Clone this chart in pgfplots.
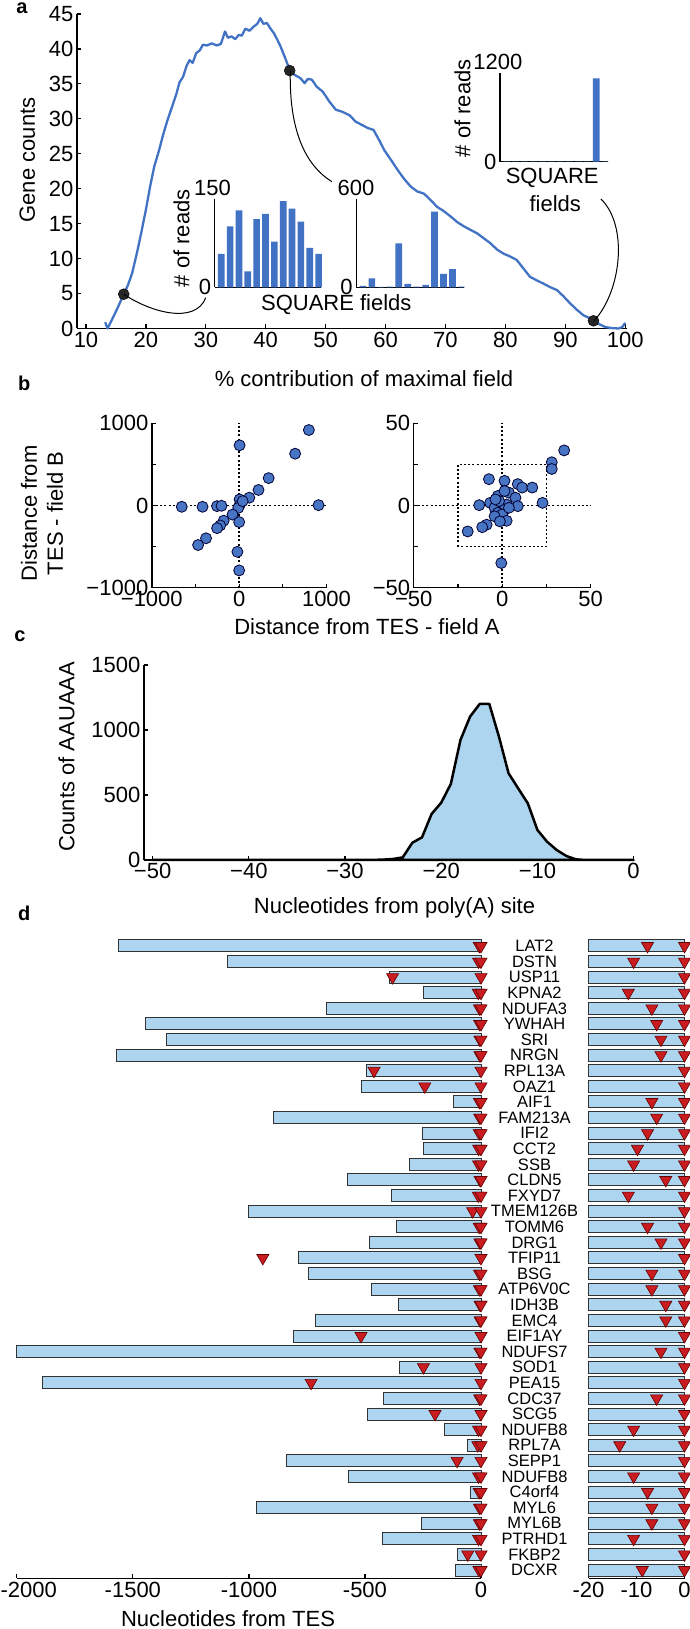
\documentclass[border=0pt]{standalone}
\usepackage{pgfplots}
\pgfplotsset{compat=1.18}
\usepackage{pgfplotstable}
\usepackage{fontspec}
\setmainfont{Liberation Sans}

\definecolor{cblue}{RGB}{66,114,196}
\definecolor{dotblue}{RGB}{72,116,196}
\definecolor{lblue}{RGB}{173,213,239}
\definecolor{tred}{RGB}{200,28,32}

\newcommand{\fs}{\fontsize{22}{26}\selectfont}
\newcommand{\gs}{\fontsize{16.5}{18}\selectfont}
\newcommand{\ls}{\fontsize{20}{24}\selectfont\bfseries}

\pgfplotsset{
  myaxis/.style={scale only axis, anchor=south west, clip=false,
    axis x line*=bottom, axis y line*=left,
    axis line style={line width=1.4pt,-},
    tick align=inside, major tick length=4pt,
    tick style={line width=1.2pt,black},
    tick label style={font=\fs},
    /pgf/number format/assume math mode=true,
    /pgf/number format/1000 sep={}},
  tri/.style={only marks, mark=triangle*, mark size=7pt,
    mark options={rotate=180, fill=tred, draw=black!60!red, line width=0.6pt}},
}

% panel a: gene counts vs % contribution of maximal field
\pgfplotstableread{
x y
13.2 0.9
13.6 0
14.3 1.2
15.2 2.8
16.3 4.9
17.0 6.2
17.7 7.9
18.5 10.8
19.2 13.6
20.0 17.0
20.7 20.3
21.4 23.2
22.2 25.5
22.9 27.8
23.6 29.8
24.4 31.8
25.1 33.6
25.6 35.2
26.2 36.0
26.8 37.6
27.3 38.4
27.8 38.0
28.4 39.4
29.0 39.8
29.5 40.6
30.2 40.5
31.0 40.8
31.8 40.5
32.5 40.7
33.2 42.5
33.7 41.6
34.3 41.8
34.9 41.4
35.5 42.0
36.0 41.9
36.6 42.9
37.3 42.6
38.0 43.2
38.6 43.6
39.1 44.4
39.6 43.6
40.2 43.7
40.8 42.9
41.4 42.2
42.0 41.2
42.5 40.3
43.2 38.8
44.0 37.0
44.8 36.3
45.8 35.8
46.5 35.1
47.0 35.7
47.7 35.6
48.5 34.6
49.5 33.9
50.6 32.5
51.7 31.3
52.8 31.0
54.0 30.5
55.0 29.6
56.1 29.1
57.0 28.7
58.0 28.4
58.9 27.0
59.8 25.5
61.0 24.0
62.0 22.7
63.1 21.4
64.2 20.3
65.3 19.6
66.4 19.3
67.5 18.4
68.6 17.4
69.7 16.8
70.9 16.0
72.0 15.2
73.1 14.6
74.2 14.1
75.3 13.6
76.4 12.9
77.5 12.2
78.6 11.3
79.7 10.7
80.8 10.3
81.9 9.8
83.0 8.6
84.1 7.4
85.2 6.9
86.4 6.4
87.5 5.9
88.6 5.5
89.7 4.6
90.8 3.6
91.9 2.7
93.0 1.9
94.0 1.5
94.8 1.1
95.7 0.6
96.7 0.2
97.8 0.05
98.9 0
99.5 0.2
100 0.8
}\curveA

\pgfplotstableread{
x y
16.3 4.9
44.0 36.9
94.7 1.1
}\dotsA

\pgfplotstableread{
f a b c
1 57 9 3
2 104 61 3
3 131 3 3
4 27 4 3
5 116 300 3
6 125 23 3
7 78 4 3
8 147 16 3
9 134 515 3
10 112 91 3
11 67 123 1124
12 57 4 3
}\insets

% panel b
\pgfplotstableread{
x y
798 918
641 630
5 732
338 333
222 189
116 95
909 4
-657 -16
-419 -16
-253 -8
-202 -4
5 74
5 4
-10 -29
40 53
-76 -111
0 -202
-177 -185
-217 -243
-253 -276
-379 -399
-470 -481
-20 -564
0 -790
}\scatL

\pgfplotstableread{
x y
35 33.5
28 26.3
28 22.2
-7.5 16
1.3 15
8.8 13
11.3 10.9
17 10.9
3.8 7.8
-2.5 5.8
1.3 8.8
7.5 4.7
22.8 1.6
-13 0.2
-6.8 1.6
-1.3 0.6
2.5 0.6
8.8 -0.4
-4.3 -1.4
1.3 -2.5
-2.5 -4.5
0 -5.5
-4.3 -6.6
2.5 -9.3
-1.3 -9.7
-8.8 -11.7
-11.3 -13.2
-19.5 -15.8
-0.5 -35
-1.8 2.7
3.8 -1.4
-3.8 3.7
}\scatR

% panel c
\pgfplotstableread{
x y
-50 0
-45 0
-40 0
-35 0
-30 0
-27 1
-26 3
-25 8
-24 20
-23 133
-22 174
-21 354
-20 441
-19 585
-18 923
-17 1103
-16 1200
-15 1200
-14 949
-13 667
-12 551
-11 436
-10 231
-9 141
-8 77
-7 31
-6 5
-5 0
0 0
}\aaua

% panel d
\pgfplotstableread{
pos name len s1 s2
1 DCXR -109 0 -8.8
2 FKBP2 -103 0 -57
3 PTRHD1 -423 0 -10.6
4 MYL6B -255 0 -6.8
5 MYL6 -967 0 -6.8
6 C4orf4 -44 0 -7.7
7 NDUFB8 -572 0 -10.6
8 SEPP1 -839 0 -103
9 RPL7A -59 0 -13.5
10 NDUFB8 -156 0 -10.6
11 SCG5 -488 0 -198
12 CDC37 -418 0 -5.8
13 PEA15 -1888 0 -732
14 SOD1 -353 0 -248
15 NDUFS7 -2000 0 -4.9
16 EIF1AY -808 0 -517
17 EMC4 -713 0 -3.9
18 IDH3B -357 0 -3.9
19 ATP6V0C -473 0 -6.8
20 BSG -744 0 -6.8
21 TFIP11 -786 0 -940
22 DRG1 -480 0 -4.9
23 TOMM6 -366 0 -7.7
24 TMEM126B -1001 0 -36
25 FXYD7 -385 0 -11.7
26 CLDN5 -574 0 -3.9
27 SSB -307 0 -10.6
28 CCT2 -246 0 -9.8
29 IFI2 -252 0 -7.7
30 FAM213A -896 0 -5.8
31 AIF1 -120 0 -6.8
32 OAZ1 -513 0 -242
33 RPL13A -492 0 -461
34 NRGN -1569 0 -4.9
35 SRI -1357 0 -4.9
36 YWHAH -1447 0 -5.8
37 NDUFA3 -665 0 -6.8
38 KPNA2 -246 0 -11.7
39 USP11 -395 0 -381
40 DSTN -1094 0 -10.6
41 LAT2 -1563 0 -7.7
}\genes

\begin{document}
\begin{tikzpicture}
\useasboundingbox (0,0) rectangle (689pt,1629pt);

% ---- a ----
\begin{axis}[myaxis, at={(77pt,1300.5pt)}, width=550pt, height=314.5pt,
  xmin=8.5, xmax=100.3, ymin=0, ymax=45,
  xtick={10,20,...,100}, ytick={0,5,...,45}]
  \addplot[cblue, line width=2.3pt, line join=round] table {\curveA};
  \addplot[only marks, mark=*, mark size=5.5pt, mark options={fill=black!85, draw=black}] table {\dotsA};
\end{axis}
\begin{axis}[myaxis, ybar, bar width=0.75, at={(214.6pt,1341.7pt)}, width=106.2pt, height=88pt,
  xmin=0.25, xmax=12.25, ymin=0, ymax=150, xtick=\empty, ytick={0}, major tick length=0pt]
  \addplot[fill=cblue, draw=none, bar shift=0pt] table[x=f, y=a] {\insets};
\end{axis}
\begin{axis}[myaxis, ybar, bar width=0.75, at={(356.2pt,1341.7pt)}, width=107.5pt, height=88pt,
  xmin=0.25, xmax=12.25, ymin=0, ymax=600, xtick=\empty, ytick={0}, major tick length=0pt]
  \addplot[fill=cblue, draw=none, bar shift=0pt] table[x=f, y=b] {\insets};
\end{axis}
\begin{axis}[myaxis, ybar, bar width=0.75, at={(500pt,1467.3pt)}, width=107.5pt, height=89pt,
  xmin=0.25, xmax=12.25, ymin=0, ymax=1200, xtick=\empty, ytick={0}, major tick length=0pt]
  \addplot[fill=cblue, draw=none, bar shift=0pt] table[x=f, y=c] {\insets};
\end{axis}

% ---- b ----
\begin{axis}[myaxis, at={(151.8pt,1041.3pt)}, width=174.7pt, height=164.4pt,
  xmin=-1000, xmax=1000, ymin=-1000, ymax=1000,
  xtick={-1000,-500,0,500,1000}, xticklabels={−1000,,0,,1000},
  ytick={-1000,-500,0,500,1000}, yticklabels={−1000,,0,,1000}]
  \draw[line width=1.6pt, dash pattern=on 2pt off 2.2pt] (axis cs:0,-1000) -- (axis cs:0,1000);
  \draw[line width=1.6pt, dash pattern=on 2pt off 2.2pt] (axis cs:-1000,0) -- (axis cs:1000,0);
  \addplot[only marks, mark=*, mark size=5.5pt, mark options={fill=dotblue, draw=black!80!blue, line width=0.8pt}] table {\scatL};
\end{axis}
\begin{axis}[myaxis, at={(413.7pt,1041.3pt)}, width=177pt, height=164.4pt,
  xmin=-50, xmax=50, ymin=-50, ymax=50,
  xtick={-50,-25,0,25,50}, xticklabels={−50,,0,,50},
  ytick={-50,-25,0,25,50}, yticklabels={−50,,0,,50}]
  \draw[line width=1.6pt, dash pattern=on 2pt off 2.2pt] (axis cs:0,-50) -- (axis cs:0,50);
  \draw[line width=1.6pt, dash pattern=on 2pt off 2.2pt] (axis cs:-50,0) -- (axis cs:50,0);
  \draw[line width=1.6pt, dash pattern=on 2pt off 2.2pt] (axis cs:-25,-25) rectangle (axis cs:25,25);
  \addplot[only marks, mark=*, mark size=5.5pt, mark options={fill=dotblue, draw=black!80!blue, line width=0.8pt}] table {\scatR};
\end{axis}

% ---- c ----
\begin{axis}[myaxis, at={(143.8pt,769pt)}, width=489.8pt, height=195pt,
  xmin=-50.92, xmax=0, ymin=0, ymax=1500,
  xtick={-50,-40,...,0}, xticklabels={−50,−40,−30,−20,−10,0},
  ytick={0,500,1000,1500}]
  \addplot[fill=lblue, draw=black, line width=2.5pt, line join=round] table {\aaua} \closedcycle;
\end{axis}

% ---- d ----
\begin{axis}[myaxis, at={(16.8pt,50.7pt)}, width=464.2pt, height=641.7pt,
  axis y line*=right, y axis line style={draw=none}, ytick style={draw=none},
  xmin=-2000, xmax=0, ymin=0.47, ymax=41.6,
  xtick={-2000,-1500,...,0}, xticklabels={\hspace*{24pt}-2000,-1500,-1000,-500,0},
  ytick={1,...,41}, yticklabels from table={\genes}{name},
  yticklabel style={font=\gs, anchor=center, xshift=53.5pt}]
  \addplot[xbar, bar shift=0pt, bar width=12pt, fill=lblue, draw=black!80, line width=1pt] table[x=len, y=pos] {\genes};
  \addplot[tri] table[x=s2, y=pos] {\genes};
  \addplot[tri] table[x=s1, y=pos] {\genes};
\end{axis}
\begin{axis}[myaxis, at={(588.5pt,50.7pt)}, width=96pt, height=641.7pt,
  y axis line style={draw=none}, ytick=\empty,
  xmin=-20, xmax=0, ymin=0.47, ymax=41.6,
  xtick={-20,-10,0}, xticklabels={-20,-10,0}]
  \addplot[xbar, bar shift=0pt, bar width=12pt, fill=lblue, draw=black!80, line width=1pt,
    x filter/.expression={max(x,-20)}] table[x=len, y=pos] {\genes};
  \addplot[tri, restrict x to domain=-20:0] table[x=s2, y=pos] {\genes};
  \addplot[tri] table[x=s1, y=pos] {\genes};
\end{axis}

% connectors from the dots to the insets
\draw[line width=1pt] (123.9pt,1334.7pt) .. controls (150pt,1317pt) and (195pt,1304pt) .. (205.8pt,1331.3pt);
\draw[line width=1pt] (290.3pt,1558.3pt) .. controls (289pt,1499pt) and (305pt,1464pt) .. (331.9pt,1447.3pt);
\draw[line width=1pt] (594.2pt,1308.3pt) .. controls (622pt,1339pt) and (628pt,1404pt) .. (600.9pt,1430pt);

% texts
\node[font=\ls] at (22pt,1620.7pt) {a};
\node[font=\ls] at (24.3pt,1245.7pt) {b};
\node[font=\ls] at (20pt,992.3pt) {c};
\node[font=\ls] at (24.3pt,716pt) {d};
\node[font=\fs, rotate=90] at (27.4pt,1469pt) {Gene counts};
\node[font=\fs] at (364pt,1250.7pt) {\% contribution of maximal field};
\node[font=\fs, rotate=90] at (181.4pt,1390.7pt) {\# of reads};
\node[font=\fs, rotate=90] at (462.4pt,1520.7pt) {\# of reads};
\node[font=\fs] at (336.3pt,1324pt) {SQUARE fields};
\node[font=\fs] at (552.2pt,1451.3pt) {SQUARE};
\node[font=\fs] at (555.3pt,1425pt) {fields};
\node[font=\fs] at (212.4pt,1440.7pt) {150};
\node[font=\fs] at (356pt,1440.7pt) {600};
\node[font=\fs] at (497.8pt,1567.3pt) {1200};
\node[font=\fs, rotate=90, align=center] at (42pt,1115.7pt) {Distance from\\TES - field B};
\node[font=\fs] at (367pt,1002.3pt) {Distance from TES - field A};
\node[font=\fs, rotate=90] at (66.4pt,872.3pt) {Counts of AAUAAA};
\node[font=\fs] at (394.5pt,720.7pt) {Nucleotides from poly(A) site};
\node[font=\fs] at (228pt,10.7pt) {Nucleotides from TES};
\end{tikzpicture}
\end{document}
